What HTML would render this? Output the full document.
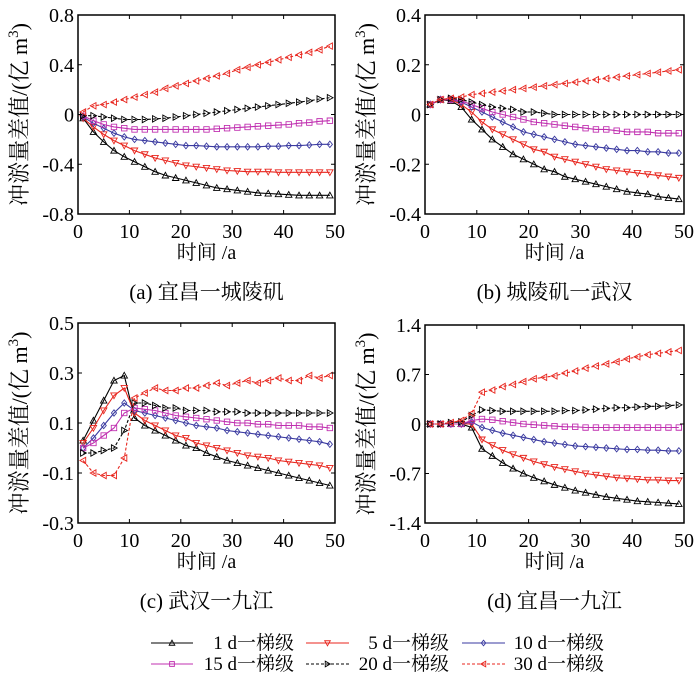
<!DOCTYPE html>
<html><head><meta charset="utf-8"><style>
body{margin:0;background:#fff}
svg{display:block;font-family:"Liberation Serif","Noto Serif CJK SC",serif}
</style></head><body>
<svg id="c" width="700" height="687" viewBox="0 0 700 687"></svg>
<script>
const xs=[1,3,5,7,9,11,13,15,17,19,21,23,25,27,29,31,33,35,37,39,41,43,45,47,49];
const seriesNames=["1 d一梯级","5 d一梯级","10 d一梯级","15 d一梯级","20 d一梯级","30 d一梯级"];
const aS1=[-0.03,-0.14,-0.22,-0.29,-0.34,-0.38,-0.42,-0.46,-0.49,-0.51,-0.53,-0.55,-0.57,-0.59,-0.60,-0.61,-0.62,-0.63,-0.635,-0.64,-0.645,-0.65,-0.65,-0.65,-0.65];
const aS5=[-0.03,-0.10,-0.16,-0.21,-0.25,-0.29,-0.32,-0.35,-0.37,-0.39,-0.41,-0.42,-0.43,-0.44,-0.45,-0.455,-0.46,-0.46,-0.46,-0.465,-0.465,-0.465,-0.465,-0.465,-0.465];
const aS10=[-0.02,-0.07,-0.11,-0.15,-0.18,-0.20,-0.21,-0.22,-0.23,-0.24,-0.25,-0.25,-0.255,-0.26,-0.26,-0.26,-0.26,-0.26,-0.255,-0.255,-0.25,-0.25,-0.245,-0.24,-0.24];
const aS15=[-0.01,-0.05,-0.08,-0.10,-0.11,-0.12,-0.12,-0.12,-0.12,-0.12,-0.12,-0.12,-0.12,-0.115,-0.11,-0.105,-0.10,-0.095,-0.09,-0.085,-0.08,-0.07,-0.065,-0.055,-0.05];
const aS20=[-0.01,-0.01,-0.02,-0.03,-0.04,-0.04,-0.04,-0.035,-0.03,-0.02,-0.01,0.0,0.01,0.02,0.03,0.04,0.05,0.06,0.07,0.08,0.09,0.10,0.11,0.125,0.135];
const aS30=[0.02,0.07,0.08,0.10,0.12,0.14,0.16,0.18,0.21,0.23,0.25,0.27,0.29,0.31,0.33,0.36,0.38,0.40,0.42,0.44,0.46,0.48,0.50,0.52,0.55];
const bS1=[0.04,0.06,0.055,0.03,-0.02,-0.06,-0.10,-0.13,-0.16,-0.18,-0.20,-0.22,-0.23,-0.25,-0.26,-0.27,-0.28,-0.29,-0.30,-0.31,-0.315,-0.32,-0.33,-0.335,-0.34];
const bS5=[0.04,0.06,0.06,0.04,0.01,-0.03,-0.06,-0.08,-0.10,-0.12,-0.14,-0.15,-0.17,-0.18,-0.19,-0.20,-0.21,-0.22,-0.225,-0.23,-0.235,-0.24,-0.245,-0.25,-0.255];
const bS10=[0.04,0.06,0.06,0.05,0.03,0.01,-0.01,-0.03,-0.05,-0.07,-0.08,-0.09,-0.10,-0.11,-0.12,-0.125,-0.13,-0.135,-0.14,-0.145,-0.145,-0.15,-0.15,-0.155,-0.155];
const bS15=[0.04,0.06,0.06,0.055,0.04,0.025,0.01,0.0,-0.01,-0.02,-0.03,-0.035,-0.04,-0.045,-0.05,-0.055,-0.06,-0.06,-0.065,-0.07,-0.07,-0.07,-0.075,-0.075,-0.075];
const bS20=[0.04,0.06,0.065,0.06,0.05,0.04,0.03,0.025,0.02,0.01,0.01,0.005,0.0,0.0,0.0,0.0,0.0,0.0,0.0,0.0,0.0,0.0,0.0,0.0,0.0];
const bS30=[0.04,0.06,0.065,0.07,0.08,0.085,0.09,0.095,0.10,0.105,0.11,0.115,0.12,0.125,0.13,0.135,0.14,0.145,0.15,0.155,0.16,0.165,0.17,0.175,0.18];
const cS1=[0.03,0.11,0.19,0.27,0.29,0.12,0.09,0.07,0.05,0.03,0.01,0.0,-0.02,-0.035,-0.05,-0.06,-0.07,-0.08,-0.09,-0.10,-0.11,-0.12,-0.13,-0.14,-0.15];
const cS5=[0.02,0.08,0.15,0.21,0.24,0.14,0.11,0.09,0.07,0.05,0.04,0.02,0.01,0.0,-0.01,-0.02,-0.03,-0.035,-0.04,-0.05,-0.055,-0.06,-0.065,-0.07,-0.08];
const cS10=[0.0,0.04,0.09,0.14,0.18,0.15,0.14,0.13,0.12,0.11,0.10,0.09,0.085,0.08,0.07,0.065,0.06,0.055,0.05,0.045,0.04,0.035,0.03,0.025,0.015];
const cS15=[0.0,0.02,0.05,0.08,0.14,0.16,0.155,0.15,0.14,0.13,0.125,0.12,0.115,0.11,0.105,0.1,0.1,0.095,0.095,0.09,0.09,0.09,0.085,0.085,0.08];
const cS20=[-0.02,-0.02,-0.01,0.0,0.07,0.18,0.18,0.17,0.16,0.16,0.15,0.15,0.15,0.145,0.145,0.145,0.14,0.14,0.14,0.14,0.14,0.14,0.14,0.14,0.14];
const cS30=[-0.05,-0.10,-0.11,-0.11,-0.04,0.20,0.22,0.24,0.23,0.23,0.24,0.24,0.25,0.26,0.25,0.26,0.27,0.26,0.27,0.28,0.27,0.27,0.29,0.28,0.29];
const dS1=[0,0,0,0,-0.05,-0.35,-0.45,-0.55,-0.63,-0.70,-0.76,-0.81,-0.86,-0.90,-0.94,-0.97,-1.0,-1.03,-1.05,-1.07,-1.09,-1.10,-1.11,-1.12,-1.13];
const dS5=[0,0,0,0,0,-0.22,-0.30,-0.37,-0.43,-0.48,-0.53,-0.57,-0.61,-0.64,-0.67,-0.70,-0.72,-0.74,-0.76,-0.77,-0.78,-0.79,-0.79,-0.80,-0.80];
const dS10=[0,0,0,0,0.03,-0.05,-0.09,-0.13,-0.16,-0.19,-0.22,-0.25,-0.27,-0.29,-0.31,-0.32,-0.33,-0.34,-0.35,-0.36,-0.36,-0.37,-0.37,-0.38,-0.38];
const dS15=[0,0,0,0,0.05,0.07,0.06,0.04,0.02,0.0,-0.01,-0.02,-0.03,-0.04,-0.04,-0.05,-0.05,-0.05,-0.05,-0.05,-0.05,-0.05,-0.05,-0.05,-0.05];
const dS20=[0,0,0.02,0.03,0.12,0.2,0.19,0.18,0.18,0.18,0.18,0.18,0.18,0.19,0.19,0.2,0.21,0.22,0.23,0.23,0.24,0.25,0.25,0.26,0.27];
const dS30=[0,0,0.02,0.05,0.15,0.45,0.48,0.53,0.56,0.60,0.64,0.66,0.68,0.72,0.75,0.79,0.82,0.85,0.88,0.92,0.95,0.98,1.0,1.02,1.04];
const aTicks=[-0.8,-0.4,0,0.4,0.8];
const bTicks=[-0.4,-0.2,0,0.2,0.4];
const cTicks=[-0.3,-0.1,0.1,0.3,0.5];
const dTicks=[-1.4,-0.7,0,0.7,1.4];
const xTicks=[0,10,20,30,40,50];
const captions=["(a) 宜昌一城陵矶","(b) 城陵矶一武汉","(c) 武汉一九江","(d) 宜昌一九江"];

const NS="http://www.w3.org/2000/svg";
const svg=document.getElementById('c');
function mk(tag,attrs,parent){const e=document.createElementNS(NS,tag);for(const k in attrs)e.setAttribute(k,attrs[k]);(parent||svg).appendChild(e);return e;}
const styles=[
 {c:"#000",dash:"",m:"up"},{c:"#e8261e",dash:"",m:"down"},{c:"#3a3aa0",dash:"",m:"diamond"},
 {c:"#c030b0",dash:"",m:"square"},{c:"#000",dash:"3,2",m:"right"},{c:"#e8261e",dash:"3,2",m:"left"}];
function marker(g,type,x,y,col,s){
 s=s||3.2;let d;
 if(type==="up")d=`M${x},${y-s}L${x+s},${y+s*0.8}L${x-s},${y+s*0.8}Z`;
 else if(type==="down")d=`M${x},${y+s}L${x+s},${y-s*0.8}L${x-s},${y-s*0.8}Z`;
 else if(type==="right")d=`M${x+s},${y}L${x-s*0.8},${y-s}L${x-s*0.8},${y+s}Z`;
 else if(type==="left")d=`M${x-s},${y}L${x+s*0.8},${y-s}L${x+s*0.8},${y+s}Z`;
 else if(type==="diamond")d=`M${x},${y-s}L${x+s*0.8},${y}L${x},${y+s}L${x-s*0.8},${y}Z`;
 else d=`M${x-s*0.85},${y-s*0.85}h${s*1.7}v${s*1.7}h${-s*1.7}Z`;
 const p=mk('path',{d:d,fill:"none",stroke:col,'stroke-width':0.9},g);
 
 
}
const panels=[
 {id:"a",L:78,R:335,T:15,B:214,ticks:aTicks,data:[aS1,aS5,aS10,aS15,aS20,aS30]},
 {id:"b",L:425,R:684,T:15,B:214,ticks:bTicks,data:[bS1,bS5,bS10,bS15,bS20,bS30]},
 {id:"c",L:78,R:335,T:323,B:523,ticks:cTicks,data:[cS1,cS5,cS10,cS15,cS20,cS30]},
 {id:"d",L:425,R:684,T:325,B:523,ticks:dTicks,data:[dS1,dS5,dS10,dS15,dS20,dS30]}];
panels.forEach((p,pi)=>{
 const g=mk('g',{});
 
 
 const ymin=p.ticks[0],ymax=p.ticks[p.ticks.length-1];
 const X=v=>p.L+(v-0)/50*(p.R-p.L);
 const Y=v=>p.B-(v-ymin)/(ymax-ymin)*(p.B-p.T);
 p.data.forEach((arr,si)=>{
  const st=styles[si];
  const sg=mk('g',{},g);
  
  
  const pts=arr.map((v,i)=>X(xs[i]).toFixed(1)+","+Y(v).toFixed(1)).join(" ");
  const pl=mk('polyline',{points:pts,fill:"none",stroke:st.c,'stroke-width':1.1,'stroke-dasharray':st.dash},sg);
  
  
  arr.forEach((v,i)=>marker(sg,st.m,X(xs[i]),Y(v),st.c));
 });
 const fr=mk('rect',{x:p.L,y:p.T,width:p.R-p.L,height:p.B-p.T,fill:"none",stroke:"#000",'stroke-width':1.5},g);
 
 
 p.ticks.forEach(t=>{
  const y=Y(t);
  mk('line',{x1:p.L,x2:p.L+4,y1:y,y2:y,stroke:"#000"},g);
  mk('line',{x1:p.R,x2:p.R-4,y1:y,y2:y,stroke:"#000"},g);
  const tx=mk('text',{x:p.L-4,y:y+7,'text-anchor':"end",'font-size':20},g);
  tx.textContent=String(t);
  
  
 });
 xTicks.forEach(t=>{
  const x=X(t);
  mk('line',{x1:x,x2:x,y1:p.B,y2:p.B-4,stroke:"#000"},g);
  mk('line',{x1:x,x2:x,y1:p.T,y2:p.T+4,stroke:"#000"},g);
  const tx=mk('text',{x:x,y:p.B+24,'text-anchor':"middle",'font-size':20},g);
  tx.textContent=String(t);
  
  
 });
 const xt=mk('text',{x:(p.L+p.R)/2,y:p.B+45,'text-anchor':"middle",'font-size':20},g);
 xt.textContent="时间 /a";
 
 
 const cap=mk('text',{x:(p.L+p.R)/2,y:p.B+85,'text-anchor':"middle",'font-size':21},g);
 cap.textContent=captions[pi];
 
 
 const cy=(p.T+p.B)/2, lx=p.L-51;
 const yt=mk('text',{x:lx,y:cy,'text-anchor':"middle",'font-size':22,transform:`rotate(-90 ${lx} ${cy})`},g);
 yt.innerHTML='冲淤量差值/(亿 m<tspan dy="-9" font-size="15">3</tspan><tspan dy="9">)</tspan>';
 
 
});
// legend
const lg=mk('g',{});


const cols=[[151,193,294],[306,349,449],[462,505,604]];
const rowsY=[643,664];
seriesNames.forEach((n,i)=>{
 const r=Math.floor(i/3),c=i%3,st=styles[i],y=rowsY[r];
 const e=mk('g',{},lg);
 
 
 mk('line',{x1:cols[c][0],x2:cols[c][1],y1:y,y2:y,stroke:st.c,'stroke-width':1,'stroke-dasharray':st.dash},e);
 marker(e,st.m,(cols[c][0]+cols[c][1])/2,y,st.c,2.8);
 const t=mk('text',{x:cols[c][2],y:y+6,'text-anchor':"end",'font-size':19},e);
 t.textContent=n;
});
</script>
</body></html>
